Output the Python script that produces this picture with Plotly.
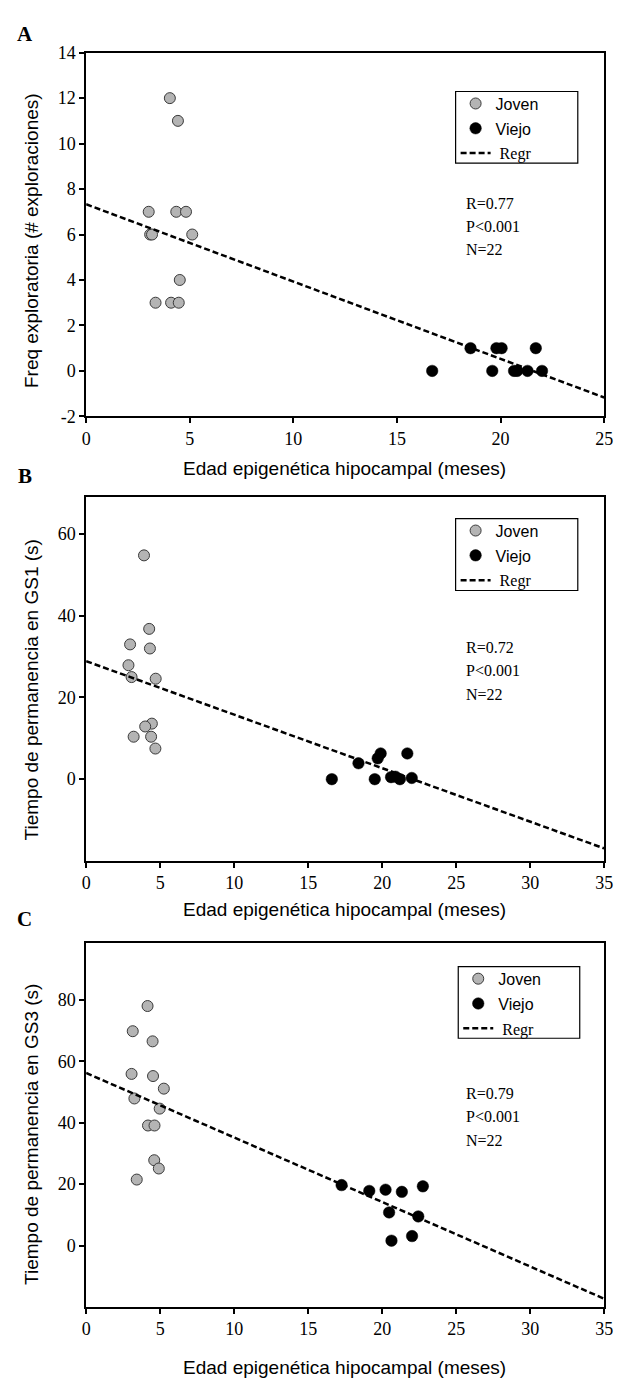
import plotly.graph_objects as go

# ---------------- data ----------------
# Panel A: exploratory frequency vs hippocampal epigenetic age
joven_A_x = [4.04, 4.43, 3.02, 4.35, 4.82, 3.09, 3.18, 5.12, 4.52, 3.35, 4.10, 4.47]
joven_A_y = [12, 11, 7, 7, 7, 6, 6, 6, 4, 3, 3, 3]
viejo_A_x = [16.7, 18.55, 19.8, 20.05, 19.6, 20.65, 20.8, 21.3, 21.7, 22.0]
viejo_A_y = [0, 1, 1, 1, 0, 0, 0, 0, 1, 0]
regr_A = {"intercept": 7.33, "slope": -0.34}
stats_A = ["R=0.77", "P<0.001", "N=22"]

# Panel B: time spent in GS1
joven_B_x = [3.91, 4.26, 2.97, 4.31, 2.86, 3.07, 4.70, 4.44, 3.99, 3.21, 4.39, 4.68]
joven_B_y = [54.8, 36.8, 33.0, 32.0, 27.9, 25.0, 24.6, 13.6, 12.9, 10.4, 10.4, 7.5]
viejo_B_x = [16.6, 18.4, 19.5, 19.7, 19.9, 20.6, 20.9, 21.2, 21.7, 22.0]
viejo_B_y = [0.0, 3.9, 0.0, 5.1, 6.3, 0.5, 0.6, 0.0, 6.3, 0.3]
regr_B = {"intercept": 28.9, "slope": -1.31}
stats_B = ["R=0.72", "P<0.001", "N=22"]

# Panel C: time spent in GS3
joven_C_x = [4.15, 3.15, 4.49, 3.07, 4.52, 5.25, 3.26, 4.97, 4.18, 4.62, 4.60, 4.91, 3.42]
joven_C_y = [78.0, 69.8, 66.5, 55.9, 55.2, 51.1, 47.9, 44.6, 39.1, 39.1, 27.8, 25.1, 21.5]
viejo_C_x = [17.26, 19.13, 20.23, 21.33, 22.75, 20.47, 22.44, 20.63, 22.02]
viejo_C_y = [19.7, 17.8, 18.2, 17.5, 19.3, 10.8, 9.5, 1.6, 3.1]
regr_C = {"intercept": 56.2, "slope": -2.10}
stats_C = ["R=0.79", "P<0.001", "N=22"]

x_title = "Edad epigenética hipocampal (meses)"
y_titles = ["Freq exploratoria (# exploraciones)",
            "Tiempo de permanencia en GS1 (s)",
            "Tiempo de permanencia en GS3 (s)"]
panel_letters = ["A", "B", "C"]

x_ticks = [[0, 5, 10, 15, 20, 25], [0, 5, 10, 15, 20, 25, 30, 35], [0, 5, 10, 15, 20, 25, 30, 35]]
y_ticks = [[-2, 0, 2, 4, 6, 8, 10, 12, 14], [0, 20, 40, 60], [0, 20, 40, 60, 80]]
x_ranges = [[0, 25], [0, 35], [0, 35]]
y_ranges = [[-2, 14], [-20, 69], [-20, 98.5]]

# ---------------- layout helpers ----------------
W, H = 621, 1388


def px(x):
    return x / W


def py(y):
    return 1 - y / H


# pixel boxes of the three plot areas (top, bottom)
panel_rows = [(43.3, 412.3), (494.5, 863.3), (946.7, 1316.0)]
plot_left, plot_right = 83, 613

SANS = "Liberation Sans, Arial, sans-serif"
SERIF = "Liberation Serif, Times New Roman, serif"
GRAY = "#b4b4b4"

fig = go.Figure()

panels = [
    (joven_A_x, joven_A_y, viejo_A_x, viejo_A_y, regr_A, stats_A),
    (joven_B_x, joven_B_y, viejo_B_x, viejo_B_y, regr_B, stats_B),
    (joven_C_x, joven_C_y, viejo_C_x, viejo_C_y, regr_C, stats_C),
]

annotations = []
shapes = []
layout_axes = {}
legend_boxes = [(461, 82.7, 586, 155.3), (461, 516.0, 586, 589.0), (463.7, 970.7, 588, 1043.3)]
stats_rows = [(196, 219.5, 243), (646.7, 670, 694.3), (1099.3, 1122.7, 1146.7)]
xtitle_y = [465, 913, 1377]
ytitle_y = [234, 690, 1141]
letter_y = [24, 473, 922]


def tick_text(vals):
    # plain hyphen for negative numbers
    return [str(v) for v in vals]


for i, (jx, jy, vx, vy, regr, stats) in enumerate(panels):
    k = "" if i == 0 else str(i + 1)
    xa, ya = "x" + k, "y" + k
    leg = "legend" + k

    fig.add_trace(go.Scatter(
        x=jx, y=jy, mode="markers", name="Joven", xaxis=xa, yaxis=ya,
        legend=leg, legendgroup="j" + k,
        marker=dict(size=11, color=GRAY, line=dict(color="#3a3a3a", width=1)),
    ))
    fig.add_trace(go.Scatter(
        x=vx, y=vy, mode="markers", name="Viejo", xaxis=xa, yaxis=ya,
        legend=leg, legendgroup="v" + k,
        marker=dict(size=11.5, color="black", line=dict(color="black", width=0.5)),
    ))
    x0, x1 = x_ranges[i]
    fig.add_trace(go.Scatter(
        x=[x0, x1],
        y=[regr["intercept"] + regr["slope"] * x0, regr["intercept"] + regr["slope"] * x1],
        mode="lines", xaxis=xa, yaxis=ya, legend=leg, legendgroup="r" + k,
        name="<span style='font-family:Liberation Serif, serif'>\u00a0Regr</span>",
        line=dict(color="black", width=2.5, dash="6px,3px"),
    ))

    top, bottom = panel_rows[i]
    axis_common = dict(
        showline=True, linecolor="black", linewidth=1.5, mirror=True,
        showgrid=False, zeroline=False,
        ticks="outside", ticklen=5, tickwidth=1.5, tickcolor="black",
        tickfont=dict(family=SERIF, size=18, color="black"),
        tickmode="array", ticklabeloverflow="allow",
    )
    xdom = [px(plot_left), px(plot_right)]
    ydom = [py(bottom), py(top)]
    layout_axes["xaxis" + k] = dict(
        axis_common, domain=xdom, range=x_ranges[i],
        tickvals=x_ticks[i], ticktext=tick_text(x_ticks[i]), anchor=ya,
    )
    layout_axes["yaxis" + k] = dict(
        axis_common, domain=ydom, range=y_ranges[i],
        tickvals=y_ticks[i], ticktext=tick_text(y_ticks[i]), anchor=xa,
    )

    # companion axes that add the inner half of each tick, so ticks cross the frame
    kk = str(i + 4)
    inner = dict(showline=False, showgrid=False, zeroline=False, showticklabels=False,
                 ticks="inside", ticklen=5, tickwidth=1.5, tickcolor="black",
                 tickmode="array")
    layout_axes["xaxis" + kk] = dict(inner, overlaying=xa, anchor=ya, side="bottom",
                                     domain=xdom, range=x_ranges[i], tickvals=x_ticks[i])
    layout_axes["yaxis" + kk] = dict(inner, overlaying=ya, anchor=xa, side="left",
                                     domain=ydom, range=y_ranges[i], tickvals=y_ticks[i])

    # legend, boxed
    lx0, ly0, lx1, ly1 = legend_boxes[i]
    layout_axes[leg] = dict(
        x=px(lx0), y=py(ly0 - 5), xanchor="left", yanchor="top",
        xref="paper", yref="paper",
        bgcolor="rgba(0,0,0,0)", borderwidth=0,
        font=dict(family=SANS, size=16, color="black"),
        tracegroupgap=1, itemwidth=30,
    )
    shapes.append(dict(type="rect", xref="paper", yref="paper",
                       x0=px(lx0), x1=px(lx1), y0=py(ly1), y1=py(ly0),
                       line=dict(color="black", width=1.2), fillcolor="rgba(0,0,0,0)"))

    # statistics block
    for txt, yy in zip(stats, stats_rows[i]):
        annotations.append(dict(
            text=txt, x=px(470), y=py(yy), xref="paper", yref="paper",
            xanchor="left", yanchor="middle", showarrow=False,
            font=dict(family=SERIF, size=16, color="black"),
        ))

    # axis titles
    annotations.append(dict(
        text=x_title, x=px(347), y=py(xtitle_y[i]), xref="paper", yref="paper",
        xanchor="center", yanchor="middle", showarrow=False,
        font=dict(family=SANS, size=19, color="black"),
    ))
    annotations.append(dict(
        text=y_titles[i], x=px(27), y=py(ytitle_y[i]), xref="paper", yref="paper",
        xanchor="center", yanchor="middle", showarrow=False, textangle=-90,
        font=dict(family=SANS, size=19, color="black"),
    ))
    annotations.append(dict(
        text="<b>" + panel_letters[i] + "</b>", x=px(20), y=py(letter_y[i]),
        xref="paper", yref="paper", xanchor="center", yanchor="middle", showarrow=False,
        font=dict(family=SERIF, size=21, color="black"),
    ))

fig.update_layout(
    width=W, height=H,
    margin=dict(l=0, r=0, t=0, b=0),
    paper_bgcolor="white", plot_bgcolor="white",
    showlegend=True,
    annotations=annotations, shapes=shapes,
    **layout_axes,
)

fig.write_html("out.html")
